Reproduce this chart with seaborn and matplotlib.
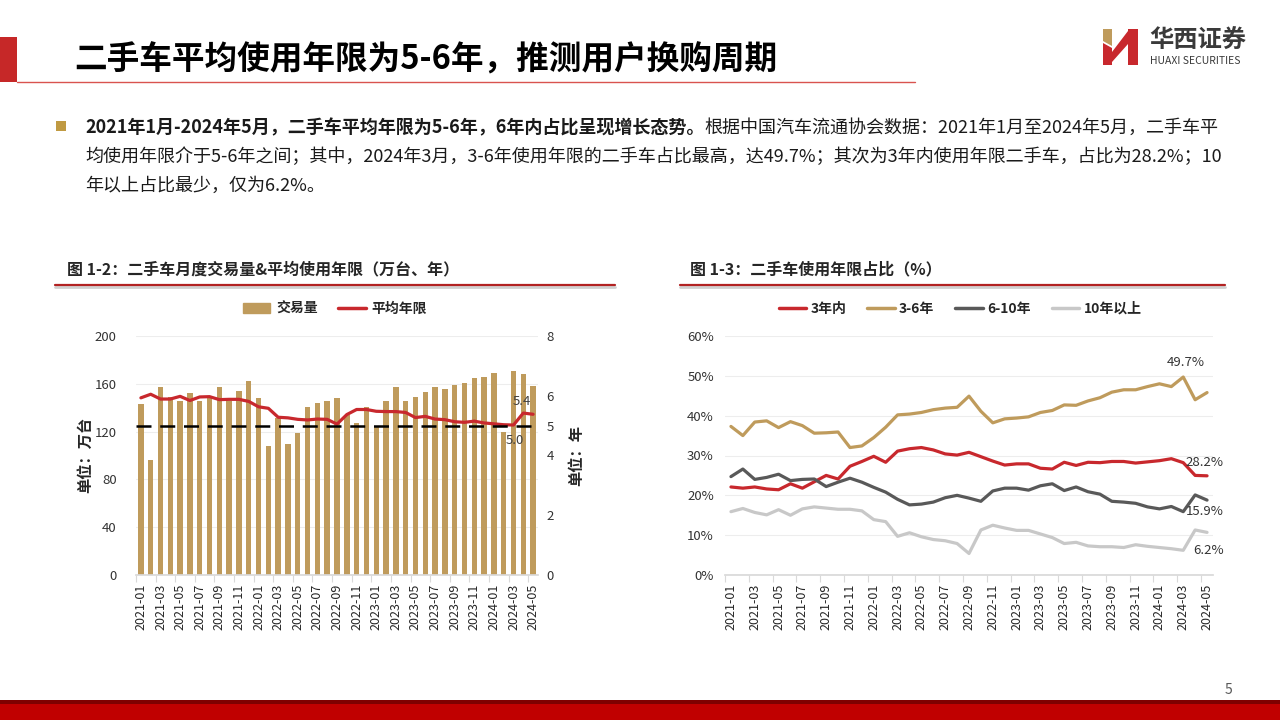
import numpy as np
import pandas as pd
import matplotlib
matplotlib.use('Agg')
import matplotlib.pyplot as plt
import seaborn as sns
from matplotlib.patches import Rectangle, Polygon, Patch
from matplotlib.lines import Line2D

# month labels 2021-01 .. 2024-05
months = ['%d-%02d' % (y, m) for y in (2021, 2022, 2023, 2024) for m in range(1, 13)][:41]

# chart 1-2: monthly volume (10k units) and average age (years)
volume = [143, 96, 157, 149, 146, 152, 146, 148, 157, 146, 154, 162,
          148, 108, 131, 110, 119, 141, 144, 146, 148, 134, 127, 141,
          124, 146, 157, 146, 149, 153, 157, 156, 159, 161, 165, 166,
          169, 120, 171, 168, 158]
avg_age = [5.93, 6.05, 5.89, 5.89, 5.98, 5.84, 5.96, 5.97, 5.87, 5.88, 5.88, 5.81,
           5.63, 5.58, 5.28, 5.26, 5.21, 5.19, 5.22, 5.21, 5.05, 5.37, 5.54, 5.54,
           5.48, 5.47, 5.47, 5.44, 5.27, 5.31, 5.22, 5.20, 5.13, 5.11, 5.15, 5.09,
           5.06, 5.03, 5.02, 5.42, 5.38]

# chart 1-3: share by age band (%)
within_3 = [22.1, 21.8, 22.1, 21.6, 21.4, 22.9, 21.8, 23.4, 25.0, 24.1, 27.3, 28.5,
            29.8, 28.3, 31.1, 31.7, 32.0, 31.4, 30.4, 30.1, 30.8, 29.7, 28.6, 27.6,
            27.9, 27.9, 26.8, 26.6, 28.3, 27.5, 28.3, 28.2, 28.5, 28.5, 28.1, 28.4,
            28.7, 29.2, 28.2, 25.0, 24.9]
y3_6 = [37.3, 35.0, 38.4, 38.7, 37.0, 38.5, 37.5, 35.6, 35.7, 35.9, 32.0, 32.4,
        34.5, 37.1, 40.2, 40.4, 40.8, 41.5, 41.9, 42.1, 44.9, 41.1, 38.2, 39.2,
        39.4, 39.7, 40.8, 41.3, 42.7, 42.6, 43.7, 44.5, 45.9, 46.5, 46.5, 47.3,
        48.0, 47.3, 49.7, 44.0, 45.8]
y6_10 = [24.7, 26.6, 24.0, 24.5, 25.3, 23.7, 24.0, 24.1, 22.2, 23.3, 24.3, 23.3,
         22.0, 20.8, 19.0, 17.6, 17.8, 18.3, 19.4, 20.0, 19.3, 18.5, 21.1, 21.8,
         21.8, 21.3, 22.4, 22.9, 21.2, 22.1, 20.9, 20.3, 18.5, 18.3, 18.0, 17.1,
         16.6, 17.2, 15.9, 20.1, 18.8]
over_10 = [15.9, 16.7, 15.7, 15.1, 16.4, 15.0, 16.6, 17.1, 16.8, 16.5, 16.5, 16.1,
           13.9, 13.4, 9.7, 10.6, 9.6, 8.9, 8.6, 7.9, 5.4, 11.3, 12.5, 11.8,
           11.2, 11.2, 10.3, 9.4, 7.9, 8.2, 7.3, 7.1, 7.1, 6.9, 7.6, 7.2,
           6.9, 6.6, 6.2, 11.3, 10.7]
series_names = ['3年内', '3-6年', '6-10年', '10年以上']

GOLD = '#BF9B5C'
RED = '#C8282D'
series_colors = [RED, GOLD, '#595959', '#C8C8C8']

sns.set_theme(style='white')
plt.rcParams['font.family'] = ['Noto Sans CJK SC', 'DejaVu Sans']
plt.rcParams['axes.unicode_minus'] = False

W, H = 1280, 720
fig = plt.figure(figsize=(12.8, 7.2), dpi=100)


def fx(x):
    return x / W


def fy(y):
    return 1 - y / H


def rect(x0, y0, x1, y1, color):
    fig.add_artist(Rectangle((fx(x0), fy(y1)), fx(x1) - fx(x0), fy(y0) - fy(y1),
                             transform=fig.transFigure, color=color, lw=0))


def poly(pts, color):
    fig.add_artist(Polygon([(fx(a), fy(b)) for a, b in pts], closed=True,
                           transform=fig.transFigure, color=color, lw=0))


def hline(x0, x1, y, color, lw):
    fig.add_artist(Line2D([fx(x0), fx(x1)], [fy(y), fy(y)], color=color, lw=lw))


# ---- slide header
rect(0, 37, 17, 82, '#C62828')
hline(17, 915, 82, '#D9534F', 1)
fig.text(fx(74), fy(60), '二手车平均使用年限为5-6年，推测用户换购周期',
         fontsize=23.5, fontweight='heavy', va='center', color='black')

# logo
poly([(1103, 29), (1112, 29), (1112, 46), (1103, 41)], GOLD)
poly([(1103, 43), (1112, 48), (1112, 65), (1103, 65)], '#C8282D')
poly([(1112, 52), (1128, 31), (1128, 44), (1112, 62)], '#C8282D')
poly([(1128, 29), (1138, 29), (1138, 65), (1128, 65)], '#C8282D')
fig.text(fx(1149), fy(41), '华西证券', fontsize=17.5, fontweight='bold', va='center', color='#3a3a3a')
fig.text(fx(1150), fy(61), 'HUAXI SECURITIES', fontsize=7.5, va='center', color='#3a3a3a')

# ---- bullet paragraph
rect(56, 121, 66, 131, '#C09A42')
renderer = fig.canvas.get_renderer()
para = [
    [('2021年1月-2024年5月，二手车平均年限为5-6年，6年内占比呈现增长态势。', 'bold'),
     ('根据中国汽车流通协会数据：2021年1月至2024年5月，二手车平', 'normal')],
    [('均使用年限介于5-6年之间；其中，2024年3月，3-6年使用年限的二手车占比最高，达49.7%；其次为3年内使用年限二手车，占比为28.2%；10', 'normal')],
    [('年以上占比最少，仅为6.2%。', 'normal')],
]
for k, line in enumerate(para):
    x = 85
    for txt, wt in line:
        t = fig.text(fx(x), fy(128 + 29 * k), txt, fontsize=13, fontweight=wt,
                     va='center', ha='left', color='#1a1a1a')
        x += t.get_window_extent(renderer).width

# ---- chart titles
fig.text(fx(67), fy(269), '图 1-2：二手车月度交易量&平均使用年限（万台、年）',
         fontsize=11.5, fontweight='bold', va='center')
fig.text(fx(690), fy(269), '图 1-3：二手车使用年限占比（%）',
         fontsize=11.5, fontweight='bold', va='center')
for x0, x1 in [(55, 615), (680, 1225)]:
    hline(x0, x1, 287, '#D0D0D0', 2)
    hline(x0, x1, 285, '#B22222', 1.6)

idx = np.arange(len(months))

# ---- left chart: bars + avg age
ax1 = fig.add_axes([fx(136), fy(575), fx(538) - fx(136), fy(336) - fy(575)])
sns.barplot(x=idx, y=volume, native_scale=True, width=0.55, color=GOLD,
            saturation=1, errorbar=None, linewidth=0, ax=ax1)
ax1.set_ylim(0, 200)
ax1.set_yticks(range(0, 201, 40))
ax1.yaxis.grid(True, color='#EDEDED', lw=0.8)
ax1.set_axisbelow(True)
for s in ['top', 'left', 'right']:
    ax1.spines[s].set_visible(False)
ax1.spines['bottom'].set_color('#D9D9D9')
ax1.set_xlabel('')
ax1.set_ylabel('')

ax2 = ax1.twinx()
sns.lineplot(x=idx, y=avg_age, color=RED, linewidth=2.3, ax=ax2)
ax2.axhline(5, color='black', lw=1.8, ls=(0, (6, 3.5)))
ax2.set_ylim(0, 8)
ax2.set_yticks([0, 2, 4, 5, 6, 8])
for s in ax2.spines.values():
    s.set_visible(False)
ax2.set_xlabel('')
ax2.set_ylabel('')
ax2.text(38.9, 5.8, '5.4', ha='center', va='center', fontsize=9.5, color='#404040')
ax2.text(38.1, 4.49, '5.0', ha='center', va='center', fontsize=9.5, color='#404040')

ax1.set_xlim(-0.5, 40.5)
ax1.set_xticks(idx[::2])
ax1.set_xticklabels(months[::2], rotation=90, fontsize=9)
ax1.set_xticks(np.arange(-0.5, 41, 2), minor=True)
ax1.tick_params(axis='x', which='major', length=0, pad=6)
ax1.tick_params(axis='x', which='minor', length=5, color='#D9D9D9', width=0.8, bottom=True)
ax1.tick_params(axis='y', labelsize=9.5, length=0, pad=14, labelcolor='#333333')
ax2.tick_params(axis='y', labelsize=9.5, length=0, pad=6, labelcolor='#333333')

fig.text(fx(85), fy(455), '单位：万台', rotation=90, fontsize=11, fontweight='bold',
         ha='center', va='center')
fig.text(fx(576), fy(455), '单位：年', rotation=90, fontsize=11, fontweight='bold',
         ha='center', va='center')

fig.legend(handles=[Patch(color=GOLD), Line2D([], [], color=RED, lw=2.5)],
           labels=['交易量', '平均年限'], loc='center', bbox_to_anchor=(fx(335), fy(309)),
           ncol=2, frameon=False, prop={'weight': 'bold', 'size': 10},
           handlelength=2, handletextpad=0.4, columnspacing=1.5)

# ---- right chart: age band shares
share = pd.DataFrame({
    'idx': np.tile(idx, 4),
    'share': np.concatenate([within_3, y3_6, y6_10, over_10]),
    'series': np.repeat(series_names, len(months)),
})
ax3 = fig.add_axes([fx(725), fy(575), fx(1213) - fx(725), fy(336) - fy(575)])
sns.lineplot(data=share, x='idx', y='share', hue='series', hue_order=series_names,
             palette=dict(zip(series_names, series_colors)), linewidth=2.3,
             legend=False, ax=ax3)
ax3.set_ylim(0, 60)
ax3.set_yticks(range(0, 61, 10))
ax3.set_yticklabels(['%d%%' % v for v in range(0, 61, 10)])
ax3.yaxis.grid(True, color='#EDEDED', lw=0.8)
ax3.set_axisbelow(True)
for s in ['top', 'left', 'right']:
    ax3.spines[s].set_visible(False)
ax3.spines['bottom'].set_color('#D9D9D9')
ax3.set_xlim(-0.5, 40.5)
ax3.set_xticks(idx[::2])
ax3.set_xticklabels(months[::2], rotation=90, fontsize=9)
ax3.set_xticks(np.arange(-0.5, 41, 2), minor=True)
ax3.tick_params(axis='x', which='major', length=0, pad=6)
ax3.tick_params(axis='x', which='minor', length=5, color='#D9D9D9', width=0.8, bottom=True)
ax3.tick_params(axis='y', labelsize=9.5, length=0, pad=8, labelcolor='#333333')
ax3.set_xlabel('')
ax3.set_ylabel('')

ax3.text(38.2, 53.3, '49.7%', ha='center', va='center', fontsize=9.5, color='#333333')
ax3.text(39.8, 28.2, '28.2%', ha='center', va='center', fontsize=9.5, color='#333333')
ax3.text(39.8, 15.9, '15.9%', ha='center', va='center', fontsize=9.5, color='#333333')
ax3.text(40.1, 6.2, '6.2%', ha='center', va='center', fontsize=9.5, color='#333333')

fig.legend(handles=[Line2D([], [], color=c, lw=2.5) for c in series_colors],
           labels=series_names, loc='center', bbox_to_anchor=(fx(960), fy(309)),
           ncol=4, frameon=False, prop={'weight': 'bold', 'size': 10},
           handlelength=2, handletextpad=0.3, columnspacing=1.5)

# ---- footer
rect(0, 700, 1280, 704, '#7F0000')
rect(0, 704, 1280, 720, '#C00000')
fig.text(fx(1228), fy(690), '5', fontsize=10, color='#595959', ha='center', va='center')

fig.savefig('out.png', dpi=100)
